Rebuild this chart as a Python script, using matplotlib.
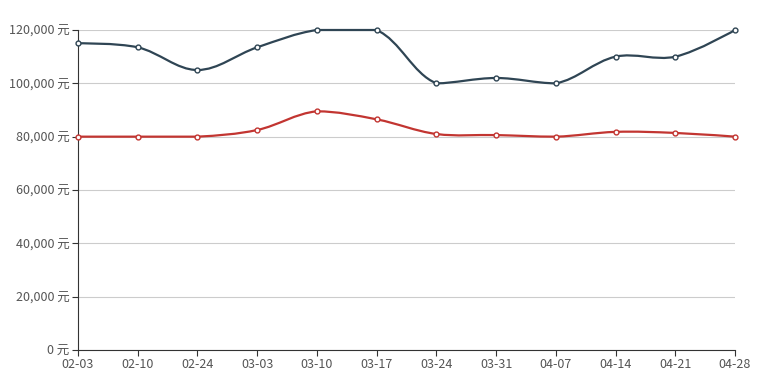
import matplotlib
matplotlib.use("Agg")
import matplotlib.pyplot as plt
from matplotlib.path import Path
from matplotlib.patches import PathPatch
from matplotlib.ticker import FuncFormatter
import numpy as np

plt.rcParams['font.family'] = ['Noto Sans CJK SC', 'DejaVu Sans']

dates = ["02-03", "02-10", "02-24", "03-03", "03-10", "03-17",
         "03-24", "03-31", "04-07", "04-14", "04-21", "04-28"]
high_price = [115000, 113500, 105000, 113500, 120000, 120000,
              100000, 102000, 100000, 110000, 110000, 120000]
low_price = [80000, 80000, 80000, 82500, 89500, 86500,
             81000, 80600, 80000, 81800, 81400, 80000]

W, H = 764, 380
fig = plt.figure(figsize=(W / 100, H / 100), dpi=100)
ax = fig.add_axes([78 / W, 30 / H, (735 - 78) / W, (350 - 30) / H])

ymax = 120000
xs = np.arange(len(dates))
# pixel scale per data unit, used for the smoothing
sx = (735 - 78) / (len(dates) - 1)
sy = (350 - 30) / ymax


def smooth_path(x, y, smooth=0.35):
    # bezier smoothing, control points kept inside the points' bounding box
    px = np.array(x, dtype=float) * sx
    py = np.array(y, dtype=float) * sy
    xmin, xmax = px.min(), px.max()
    ymin, ymax_ = py.min(), py.max()
    n = len(px)
    cps = []
    for i in range(n):
        if i == 0 or i == n - 1:
            cps.append(((px[i], py[i]), (px[i], py[i])))
            continue
        vx = (px[i + 1] - px[i - 1]) * smooth
        vy = (py[i + 1] - py[i - 1]) * smooth
        d0 = np.hypot(px[i] - px[i - 1], py[i] - py[i - 1])
        d1 = np.hypot(px[i + 1] - px[i], py[i + 1] - py[i])
        s = d0 + d1
        d0, d1 = d0 / s, d1 / s
        c0 = (np.clip(px[i] - vx * d0, xmin, xmax),
              np.clip(py[i] - vy * d0, ymin, ymax_))
        c1 = (np.clip(px[i] + vx * d1, xmin, xmax),
              np.clip(py[i] + vy * d1, ymin, ymax_))
        cps.append((c0, c1))
    verts = [(px[0], py[0])]
    codes = [Path.MOVETO]
    for i in range(n - 1):
        verts += [cps[i][1], cps[i + 1][0], (px[i + 1], py[i + 1])]
        codes += [Path.CURVE4] * 3
    verts = [(a / sx, b / sy) for a, b in verts]
    return Path(verts, codes)


for vals, color in [(high_price, "#2f4554"), (low_price, "#c23531")]:
    ax.add_patch(PathPatch(smooth_path(xs, vals), fill=False, edgecolor=color,
                           lw=1.6, zorder=3, clip_on=False))
    ax.plot(xs, vals, linestyle="none", marker="o", markersize=3.5,
            markerfacecolor="white", markeredgecolor=color, mew=1, zorder=4,
            clip_on=False)

ax.set_xlim(0, len(dates) - 1)
ax.set_ylim(0, ymax)
ax.set_xticks(xs)
ax.set_xticklabels(dates)
ax.set_yticks(np.arange(0, ymax + 1, 20000))
ax.yaxis.set_major_formatter(FuncFormatter(lambda v, p: f"{int(v):,} 元"))
ax.grid(axis="y", color="#cccccc", lw=0.8)
ax.set_axisbelow(True)
for s in ["top", "right"]:
    ax.spines[s].set_visible(False)
for s in ["left", "bottom"]:
    ax.spines[s].set_color("#333333")
    ax.spines[s].set_linewidth(0.8)
ax.tick_params(axis="both", colors="#333333", labelcolor="#555555",
               labelsize=9, length=4, width=0.8, pad=2)

fig.savefig("out.png", dpi=100)
